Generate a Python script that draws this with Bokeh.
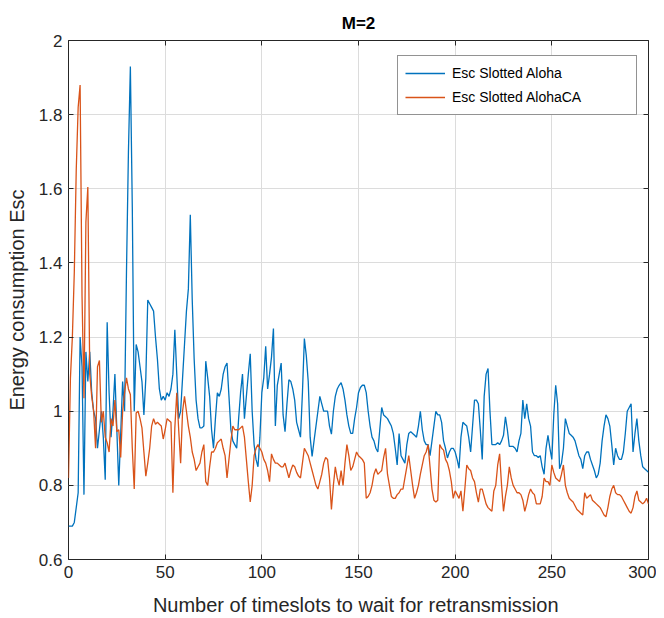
from bokeh.plotting import figure
from bokeh.models import (Range1d, FixedTicker, LinearAxis, Legend, LegendItem,
                          CustomJSTickFormatter)
from bokeh.embed import file_html
from bokeh.resources import INLINE

# ---------------- data ----------------
timeslots = list(range(0, 301))

esc_slotted_aloha = [
    0.69, 0.69, 0.69, 0.70, 0.74, 0.78, 1.20, 1.12, 0.775, 1.16,
    1.08, 1.16, 1.05, 1.00, 0.98, 0.90, 0.95, 1.00, 0.93, 0.815,
    1.24, 1.05, 0.93, 1.00, 1.10, 0.95, 0.80, 0.94, 1.08, 1.00,
    1.38, 1.70, 1.93, 1.55, 1.00, 1.18, 1.16, 1.12, 1.08, 0.99,
    1.09, 1.30, 1.29, 1.28, 1.27, 1.20, 1.14, 1.06, 1.03, 1.04,
    1.03, 1.05, 1.04, 1.06, 1.10, 1.22, 1.10, 0.98, 1.00, 1.09,
    1.18, 1.27, 1.33, 1.53, 1.30, 1.14, 1.03, 0.98, 0.955, 0.955,
    0.96, 1.135, 1.09, 1.04, 0.95, 0.90, 0.98, 1.05, 1.04, 1.06,
    1.10, 1.12, 1.13, 1.04, 0.95, 0.92, 0.91, 0.90, 0.98, 1.05,
    1.10, 0.98, 1.04, 1.10, 1.155, 1.00, 0.91, 0.87, 0.85, 0.93,
    1.05, 1.09, 1.175, 1.06, 1.10, 1.146, 1.223, 0.96, 1.07, 1.10,
    1.13, 0.99, 0.945, 1.02, 1.085, 1.08, 1.06, 1.03, 0.97, 0.95,
    0.93, 1.05, 1.196, 1.15, 1.08, 0.93, 0.878, 0.92, 0.96, 1.00,
    1.04, 1.02, 1.00, 1.00, 1.00, 0.96, 0.938, 1.00, 1.04, 1.06,
    1.07, 1.077, 1.06, 1.03, 0.99, 0.96, 0.94, 0.94, 0.98, 1.01,
    1.05, 1.064, 1.07, 1.07, 1.05, 1.00, 0.96, 0.93, 0.92, 0.90,
    0.89, 0.95, 1.01, 0.99, 0.985, 0.98, 0.97, 0.96, 0.94, 0.90,
    0.855, 0.94, 0.88, 0.87, 0.86, 0.91, 0.94, 0.945, 0.94, 0.935,
    0.93, 0.96, 1.00, 0.95, 0.92, 0.91, 0.91, 0.88, 0.92, 0.96,
    1.00, 0.99, 0.99, 0.97, 0.92, 0.90, 0.874, 0.89, 0.90, 0.90,
    0.89, 0.87, 0.846, 0.93, 0.97, 0.965, 0.96, 0.93, 0.89, 0.96,
    1.03, 1.03, 1.02, 0.95, 0.87, 1.04, 1.10, 1.115, 1.00, 0.91,
    0.91, 0.91, 0.915, 0.91, 0.92, 0.935, 0.985, 0.95, 0.905, 0.905,
    0.905, 0.90, 0.89, 0.92, 0.94, 1.03, 0.98, 1.02, 0.98, 0.96,
    0.89, 0.88, 0.88, 0.875, 0.88, 0.85, 0.83, 0.90, 0.935, 0.90,
    0.87, 0.99, 1.07, 1.02, 0.845, 0.86, 0.90, 0.98, 0.96, 0.94,
    0.935, 0.93, 0.92, 0.90, 0.88, 0.87, 0.845, 0.88, 0.89, 0.89,
    0.87, 0.855, 0.84, 0.82, 0.83, 0.86, 0.92, 0.96, 0.99, 0.98,
    0.96, 0.91, 0.855, 0.90, 0.88, 0.87, 0.87, 0.89, 0.94, 1.00,
    1.01, 1.02, 0.89, 0.94, 0.98, 0.92, 0.88, 0.85, 0.845, 0.84,
    0.835,
]

esc_slotted_aloha_ca = [
    0.82, 1.09, 1.20, 1.375, 1.65, 1.82, 1.88, 1.31, 1.035, 1.51,
    1.605, 1.10, 1.04, 1.00, 0.90, 1.12, 1.137, 0.97, 1.00, 0.93,
    0.915, 0.89, 0.98, 0.96, 1.03, 0.945, 0.95, 0.875, 1.00, 1.05,
    1.09, 1.06, 1.045, 0.90, 0.79, 0.995, 1.00, 0.98, 0.955, 0.89,
    0.825, 0.86, 0.90, 0.96, 0.98, 0.965, 0.97, 0.965, 0.96, 0.925,
    0.95, 0.98, 0.975, 0.97, 0.78, 0.955, 1.05, 0.95, 0.86, 1.00,
    1.04, 1.00, 0.96, 0.93, 0.89, 0.87, 0.84, 0.85, 0.86, 0.89,
    0.91, 0.81, 0.80, 0.85, 0.89, 0.89, 0.90, 0.915, 0.92, 0.925,
    0.90, 0.88, 0.82, 0.87, 0.92, 0.96, 0.95, 0.95, 0.95, 0.955,
    0.96, 0.93, 0.87, 0.81, 0.755, 0.80, 0.88, 0.90, 0.91, 0.90,
    0.89, 0.87, 0.86, 0.84, 0.81, 0.885, 0.87, 0.86, 0.86, 0.855,
    0.85, 0.85, 0.86, 0.84, 0.82, 0.84, 0.855, 0.85, 0.835, 0.825,
    0.82, 0.86, 0.90, 0.89, 0.88, 0.86, 0.84, 0.82, 0.80, 0.79,
    0.81, 0.83, 0.86, 0.875, 0.87, 0.82, 0.735, 0.80, 0.85, 0.82,
    0.80, 0.84, 0.80, 0.86, 0.91, 0.88, 0.84, 0.85, 0.87, 0.89,
    0.88, 0.875, 0.87, 0.86, 0.765, 0.77, 0.78, 0.80, 0.83, 0.845,
    0.83, 0.835, 0.84, 0.875, 0.90, 0.83, 0.80, 0.77, 0.765, 0.765,
    0.775, 0.78, 0.79, 0.79, 0.82, 0.85, 0.88, 0.84, 0.80, 0.765,
    0.78, 0.80, 0.83, 0.855, 0.88, 0.89, 0.91, 0.85, 0.79, 0.76,
    0.755, 0.76, 0.91, 0.90, 0.895, 0.87, 0.86, 0.84, 0.81, 0.765,
    0.785, 0.775, 0.765, 0.785, 0.73, 0.79, 0.855, 0.845, 0.84, 0.82,
    0.81, 0.78, 0.755, 0.79, 0.79, 0.77, 0.75, 0.74, 0.735, 0.73,
    0.785, 0.80, 0.855, 0.885, 0.80, 0.73, 0.77, 0.80, 0.85, 0.82,
    0.80, 0.79, 0.78, 0.78, 0.775, 0.76, 0.73, 0.75, 0.775, 0.79,
    0.78, 0.775, 0.75, 0.75, 0.75, 0.77, 0.82, 0.81, 0.81, 0.80,
    0.855, 0.835, 0.82, 0.815, 0.81, 0.83, 0.855, 0.80, 0.78, 0.765,
    0.76, 0.755, 0.745, 0.735, 0.73, 0.725, 0.72, 0.78, 0.765, 0.77,
    0.775, 0.76, 0.755, 0.75, 0.745, 0.74, 0.73, 0.72, 0.715, 0.74,
    0.77, 0.79, 0.80, 0.78, 0.775, 0.775, 0.77, 0.76, 0.75, 0.74,
    0.73, 0.725, 0.74, 0.77, 0.785, 0.76, 0.755, 0.75, 0.755, 0.765,
    0.75,
]

x_ticks = [0, 50, 100, 150, 200, 250, 300]
y_ticks = [0.6, 0.8, 1.0, 1.2, 1.4, 1.6, 1.8, 2.0]
series_labels = ["Esc Slotted Aloha", "Esc Slotted AlohaCA"]
title_text = "M=2"
x_label = "Number of  timeslots to wait for retransmission"
y_label = "Energy consumption Esc"

# ---------------- style ----------------
FONT = "Liberation Sans"
DARK = "#262626"
BLUE = "#0072BD"
ORANGE = "#D95319"

p = figure(width=656, height=618, output_backend="svg", toolbar_location=None,
           x_range=Range1d(0, 300), y_range=Range1d(0.6, 2.0),
           min_border_left=68, min_border_right=8, min_border_top=40,
           min_border_bottom=57, title=title_text)

p.title.align = "center"
p.title.text_font = FONT
p.title.text_font_size = "17px"
p.title.text_font_style = "bold"
p.title.text_color = "#000000"
p.title.standoff = 15

p.outline_line_color = DARK
p.outline_line_width = 1
p.background_fill_color = "white"
p.border_fill_color = "white"

xt = FixedTicker(ticks=x_ticks)
yt = FixedTicker(ticks=y_ticks)
yfmt = CustomJSTickFormatter(code="return Number(tick.toFixed(1)).toString();")

def style_axis(ax, show_labels=True):
    ax.axis_line_color = None
    ax.major_tick_line_color = DARK
    ax.major_tick_in = 5
    ax.major_tick_out = 0
    ax.minor_tick_line_color = None
    ax.major_label_text_font = FONT
    ax.major_label_text_color = DARK
    if show_labels:
        ax.major_label_text_font_size = "17px"
    else:
        ax.major_label_text_font_size = "0px"
        ax.major_label_standoff = 0

xa = p.xaxis[0]
xa.ticker = xt
style_axis(xa)
xa.major_label_standoff = 6
xa.axis_label = x_label
xa.axis_label_text_font = FONT
xa.axis_label_text_font_size = "20px"
xa.axis_label_text_font_style = "normal"
xa.axis_label_text_color = DARK
xa.axis_label_standoff = 13

ya = p.yaxis[0]
ya.ticker = yt
ya.formatter = yfmt
style_axis(ya)
ya.major_label_standoff = 6
ya.axis_label = y_label
ya.axis_label_text_font = FONT
ya.axis_label_text_font_size = "20px"
ya.axis_label_text_font_style = "normal"
ya.axis_label_text_color = DARK
ya.axis_label_standoff = 8

top_ax = LinearAxis(ticker=xt)
style_axis(top_ax, show_labels=False)
p.add_layout(top_ax, "above")
right_ax = LinearAxis(ticker=yt)
style_axis(right_ax, show_labels=False)
p.add_layout(right_ax, "right")

p.xgrid.ticker = xt
p.ygrid.ticker = yt
p.xgrid.grid_line_color = "#dcdcdc"
p.ygrid.grid_line_color = "#dcdcdc"

r1 = p.line(timeslots, esc_slotted_aloha, line_color=BLUE, line_width=1.3)
r2 = p.line(timeslots, esc_slotted_aloha_ca, line_color=ORANGE, line_width=1.3)

legend = Legend(items=[LegendItem(label=series_labels[0], renderers=[r1]),
                       LegendItem(label=series_labels[1], renderers=[r2])],
                location=(329, 444))
legend.border_line_color = DARK
legend.border_line_width = 1
legend.background_fill_color = "white"
legend.background_fill_alpha = 1
legend.padding = 7
legend.spacing = 4
legend.margin = 0
legend.glyph_width = 40
legend.glyph_height = 20
legend.label_height = 20
legend.label_width = 177
legend.label_standoff = 7
legend.label_text_font = FONT
legend.label_text_font_size = "14px"
legend.label_text_color = "#000000"
p.add_layout(legend)

open("out.html", "w").write(file_html(p, INLINE))
